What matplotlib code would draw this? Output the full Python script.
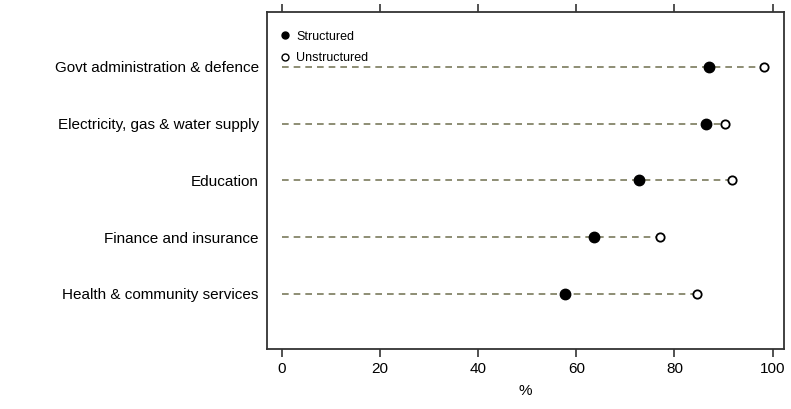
import matplotlib.pyplot as plt
from matplotlib.lines import Line2D

# Data
industries = ["Govt administration & defence",
              "Electricity, gas & water supply",
              "Education",
              "Finance and insurance",
              "Health & community services"]
structured = [87.1, 86.5, 72.7, 63.7, 57.8]
unstructured = [98.2, 90.4, 91.8, 77.1, 84.6]
xticks = [0, 20, 40, 60, 80, 100]

plt.rcParams['font.family'] = ['Liberation Sans', 'DejaVu Sans']

fig = plt.figure(figsize=(7.91, 4.09), dpi=100)
ax = fig.add_axes([0.3375, 0.147, 0.654, 0.824])

ypos = list(range(len(industries)))
line_col = '#7a7a5c'

# dashed guide lines from 0 to the larger value
for y, s, u in zip(ypos, structured, unstructured):
    ax.plot([0, max(s, u)], [y, y], ls=(0, (4, 3)), color=line_col, lw=1.2, zorder=1)

ax.plot(structured, ypos, 'o', color='black', ms=7.5, ls='none', zorder=3)
ax.plot(unstructured, ypos, 'o', mfc='white', mec='black', mew=1.3, ms=6, ls='none', zorder=3)

ax.set_xlim(-3.06, 102.4)
ax.set_ylim(4.97, -0.97)
ax.set_yticks(ypos)
ax.set_yticklabels(industries, fontsize=11)
ax.tick_params(axis='y', length=0, pad=6)
ax.set_xticks(xticks)
ax.set_xticklabels([str(t) for t in xticks], fontsize=11)
ax.tick_params(axis='x', top=True, direction='out', length=6, width=1.2, color='#333333')
ax.set_xlabel('%', fontsize=11, labelpad=6)

for sp in ax.spines.values():
    sp.set_linewidth(1.3)
    sp.set_color('#333333')

handles = [Line2D([], [], marker='o', color='black', ms=5, ls='none'),
           Line2D([], [], marker='o', mfc='white', mec='black', mew=1.0, ms=5, ls='none')]
ax.legend(handles, ['Structured', 'Unstructured'], loc='upper left',
          bbox_to_anchor=(0.028, 0.944), frameon=False, fontsize=9,
          handlelength=0.6, handletextpad=0.6, labelspacing=0.75,
          borderaxespad=0, borderpad=0)

fig.savefig('out.png', dpi=100)
